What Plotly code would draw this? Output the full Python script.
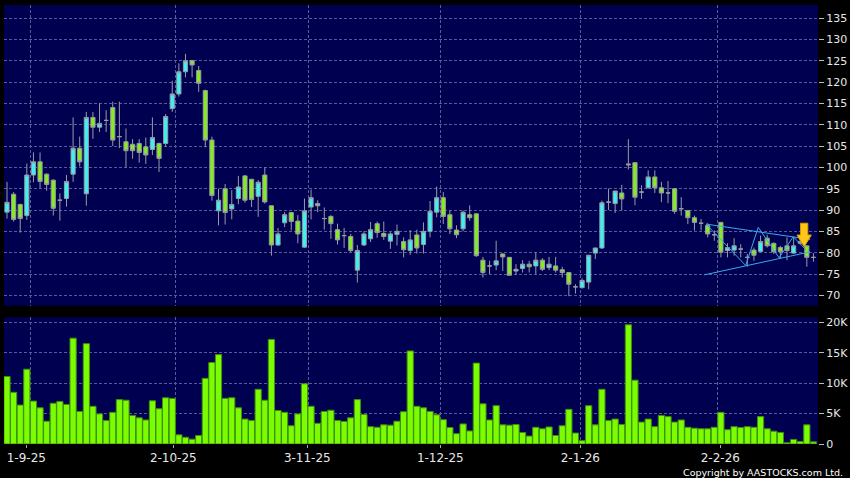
import plotly.graph_objects as go

# ---------------- data ----------------
opens = [89.5, 93.7, 91.3, 88.7, 98.2, 101.3, 98.4, 97.0, 92.3, 92.7,
         98.4, 104.5, 93.8, 111.7, 109.4, 111.0, 114.0, 107.2, 106.0, 105.4,
         105.6, 104.8, 104.2, 105.6, 105.6, 113.75, 117.2, 122.4, 125.0, 122.7,
         118.0, 106.4, 89.8, 95.0, 90.25, 92.7, 98.0, 97.2, 93.2, 98.2,
         91.0, 81.8, 87.0, 89.4, 87.4, 81.3, 90.7, 91.5, 88.0, 88.5,
         85.4, 84.0, 83.8, 75.9, 81.8, 83.25, 86.8, 84.5, 82.7, 84.3,
         82.6, 80.5, 84.15, 81.9, 85.0, 89.5, 92.9, 88.9, 85.3, 85.6,
         88.9, 89.1, 78.25, 76.9, 77.1, 79.7, 78.9, 75.7, 76.3, 77.3,
         76.9, 78.25, 76.5, 76.9, 76.0, 75.35, 72.0, 71.8, 73.1, 79.9,
         81.1, 91.85, 91.5, 94.0, 100.8, 101.1, 94.2, 95.2, 97.75, 95.2,
         94.0, 95.0, 90.3, 89.9, 88.2, 86.9, 86.35, 84.2, 87.1, 80.5,
         80.6, 80.85, 78.9, 80.6, 80.3, 83.4, 82.2, 81.2, 81.6, 79.9,
         82.6, 81.6, 78.9]
highs = [96.6, 94.2, 91.5, 100.9, 103.5, 103.5, 98.6, 97.2, 93.9, 98.2,
         111.7, 107.2, 113.0, 113.0, 115.0, 113.4, 115.4, 115.4, 109.1, 106.6,
         106.6, 107.0, 111.7, 105.8, 112.5, 120.3, 124.4, 126.6, 125.2, 123.75,
         118.2, 107.2, 95.0, 96.1, 94.65, 98.0, 98.2, 97.3, 97.0, 100.0,
         91.1, 85.8, 89.5, 89.5, 88.8, 92.7, 94.8, 92.3, 90.6, 88.8,
         86.8, 85.8, 84.4, 81.8, 85.0, 87.2, 87.3, 87.3, 84.8, 86.6,
         83.6, 85.3, 85.4, 87.1, 92.1, 95.5, 94.2, 89.9, 86.4, 89.9,
         91.1, 89.2, 79.0, 78.1, 82.8, 79.8, 79.0, 77.3, 78.25, 78.1,
         80.1, 78.7, 79.0, 79.0, 76.7, 75.5, 72.6, 74.0, 79.5, 81.2,
         92.2, 95.0, 94.5, 95.9, 106.6, 101.2, 95.8, 99.3, 99.3, 96.6,
         96.8, 95.1, 93.0, 90.0, 88.7, 87.9, 86.9, 85.2, 87.2, 82.2,
         83.4, 82.0, 79.7, 81.2, 84.0, 84.2, 82.4, 81.6, 83.6, 83.6,
         83.2, 81.7, 79.9]
lows = [88.0, 87.3, 84.7, 87.7, 96.5, 95.1, 94.5, 88.7, 87.5, 90.8,
        96.6, 100.2, 91.0, 106.7, 108.3, 108.3, 105.0, 104.5, 100.0, 102.0,
        101.1, 100.8, 102.9, 98.9, 104.8, 113.0, 116.6, 121.1, 121.1, 117.7,
        104.7, 92.2, 86.4, 86.6, 87.8, 91.35, 91.7, 90.7, 88.4, 91.5,
        79.3, 81.6, 86.0, 85.2, 82.2, 81.1, 87.8, 89.5, 85.4, 83.25,
        81.9, 81.1, 80.1, 73.0, 81.6, 82.5, 83.5, 83.0, 80.9, 81.7,
        78.9, 79.5, 79.8, 79.8, 83.6, 88.3, 86.7, 84.4, 83.4, 85.0,
        87.5, 79.0, 74.2, 75.0, 75.9, 75.7, 74.6, 74.8, 75.35, 75.35,
        75.0, 75.7, 75.9, 75.35, 74.2, 69.8, 70.4, 71.6, 71.4, 78.5,
        80.9, 90.0, 89.3, 89.9, 99.5, 91.1, 92.6, 95.0, 94.0, 91.85,
        91.6, 89.1, 88.7, 86.7, 85.2, 85.2, 83.6, 82.8, 78.9, 78.9,
        79.3, 78.9, 76.7, 78.1, 80.1, 81.2, 79.7, 78.7, 78.25, 79.7,
        81.9, 76.7, 77.9]
closes = [91.8, 87.8, 88.0, 98.2, 101.3, 96.7, 96.0, 90.4, 92.3, 96.7,
          104.5, 101.3, 111.7, 109.4, 110.3, 111.0, 106.4, 107.2, 103.9, 103.9,
          103.5, 102.9, 107.0, 102.1, 111.9, 117.2, 122.4, 125.0, 124.0, 119.7,
          106.4, 93.4, 92.3, 89.4, 91.3, 95.4, 92.3, 92.45, 96.5, 91.9,
          81.8, 84.4, 88.9, 87.3, 84.4, 89.8, 92.9, 91.0, 88.0, 86.8,
          83.0, 84.0, 80.5, 80.5, 84.4, 85.4, 84.7, 83.8, 84.4, 85.0,
          80.7, 83.0, 81.1, 85.0, 89.7, 92.9, 88.5, 85.6, 84.2, 89.5,
          88.2, 79.3, 75.35, 76.9, 78.1, 79.0, 74.7, 76.1, 77.3, 76.7,
          78.25, 76.1, 77.3, 75.9, 75.35, 72.6, 72.0, 73.5, 79.4, 81.1,
          91.7, 91.85, 94.45, 92.6, 100.6, 93.0, 94.2, 97.75, 95.2, 94.0,
          94.0, 89.7, 90.3, 88.2, 87.1, 86.9, 84.4, 84.2, 80.1, 81.2,
          81.6, 80.85, 78.9, 79.4, 82.6, 81.6, 80.2, 80.2, 80.5, 81.6,
          82.2, 78.9, 78.9]
volumes_k = [11.1, 8.5, 6.4, 12.3, 7.05, 5.95, 3.75, 6.7, 7.0, 6.5,
             17.4, 5.35, 16.5, 6.2, 4.95, 3.85, 5.2, 7.3, 7.2, 4.7,
             4.3, 3.95, 7.1, 5.8, 7.6, 7.5, 1.5, 1.1, 0.8, 1.4,
             10.8, 13.4, 14.7, 7.5, 7.6, 5.95, 4.1, 3.85, 9.0, 7.2,
             17.2, 5.5, 5.2, 3.0, 4.95, 9.9, 6.2, 3.4, 5.35, 5.55,
             3.85, 3.7, 4.3, 7.3, 4.85, 2.85, 2.75, 3.15, 3.1, 3.75,
             5.3, 15.3, 6.2, 5.95, 5.35, 4.8, 4.0, 2.7, 1.7, 3.3,
             2.15, 13.3, 6.6, 3.95, 6.3, 3.15, 3.1, 3.2, 1.9, 1.3,
             2.75, 2.5, 2.8, 1.4, 3.0, 5.7, 1.8, 0.55, 6.3, 3.15,
             9.0, 3.85, 4.1, 3.2, 19.6, 10.5, 3.6, 4.1, 2.85, 4.7,
             4.5, 3.6, 3.95, 2.75, 2.6, 2.5, 2.5, 2.75, 5.2, 2.35,
             2.85, 2.7, 2.85, 2.75, 4.5, 2.5, 2.1, 1.9, 0.2, 0.75,
             0.4, 3.15, 0.35]
volumes = [v * 1000 for v in volumes_k]
session = list(range(len(opens)))

date_tick_pos = [2.92, 25.16, 45.43, 65.55, 86.73, 107.91]
date_tick_labels = ["1-9-25", "2-10-25", "3-11-25", "1-12-25", "2-1-26", "2-2-26"]
date_grid_pos = [3.59, 25.52, 45.58, 65.61, 86.69, 107.46]

price_ticks = list(range(70, 140, 5))
vol_ticks = [0, 5000, 10000, 15000, 20000]
vol_tick_labels = ["0", "5K", "10K", "15K", "20K"]

# triangle pattern drawn by the chart user
tri_upper_x = [105.75, 121.5]
tri_upper_y = [86.7, 83.1]
tri_lower_x = [105.5, 121.5]
tri_lower_y = [74.8, 80.2]
zig_x = [105.75, 111.75, 113.65, 116.8, 118.95, 120.9]
zig_y = [86.7, 77.0, 85.95, 78.8, 83.75, 80.6]

arrow_x = 120.6
arrow_top = 86.9
arrow_tip = 81.4

# ---------------- styles ----------------
NAVY = "#000050"
GRID = "#5a5a96"
CYAN = "#3ff0f0"
GREEN = "#84ec20"
WICK = "#9a9aa6"
VOLG = "#7cfc00"
TXT = "#e8e8e8"
FONT = "DejaVu Sans"

fig = go.Figure()

fig.add_trace(go.Candlestick(
    x=session, open=opens, high=highs, low=lows, close=closes,
    increasing=dict(fillcolor=CYAN, line=dict(color=WICK, width=1)),
    decreasing=dict(fillcolor=GREEN, line=dict(color=WICK, width=1)),
    whiskerwidth=0, xaxis="x", yaxis="y", hoverinfo="skip",
))

line_style = dict(color="#3aa8f0", width=1)
for xs, ys in ((tri_upper_x, tri_upper_y), (tri_lower_x, tri_lower_y), (zig_x, zig_y)):
    fig.add_trace(go.Scatter(x=xs, y=ys, mode="lines", line=line_style,
                             xaxis="x", yaxis="y", hoverinfo="skip"))

fig.add_trace(go.Bar(
    x=session, y=volumes, marker=dict(color=VOLG, line=dict(color="#3f8f10", width=1)),
    xaxis="x2", yaxis="y2", hoverinfo="skip",
))

# arrow marker (built from its data position)
sw, hw, hh = 0.55, 1.09, 2.74
a = arrow_x
path = (f"M {a-sw},{arrow_top} L {a+sw},{arrow_top} L {a+sw},{arrow_tip+hh} "
        f"L {a+hw},{arrow_tip+hh} L {a},{arrow_tip} L {a-hw},{arrow_tip+hh} "
        f"L {a-sw},{arrow_tip+hh} Z")
fig.add_shape(type="path", path=path, xref="x", yref="y",
              fillcolor="#ffc61a", line=dict(color="#e09a00", width=1), layer="above")

xrange = [-0.454, 122.69]
fig.update_layout(
    width=850, height=478,
    margin=dict(l=4, r=32, t=5, b=34, autoexpand=False),
    paper_bgcolor="black", plot_bgcolor=NAVY,
    showlegend=False, boxgap=0.1, bargap=0.06,
    font=dict(family=FONT, color=TXT, size=11),
    xaxis=dict(domain=[0, 1], anchor="y", range=xrange, tickmode="array",
               tickvals=date_grid_pos, showticklabels=False, ticks="",
               showgrid=True, gridcolor=GRID, griddash="3px,2px", gridwidth=1,
               zeroline=False, showline=False, automargin=False,
               rangeslider=dict(visible=False)),
    yaxis=dict(domain=[0.315, 1], anchor="x", side="right", range=[67.57, 138.05],
               tickmode="array", tickvals=price_ticks, automargin=False,
               ticks="outside", ticklen=5, tickcolor="#bbbbbb", tickwidth=1,
               showgrid=True, gridcolor=GRID, griddash="3px,2px", gridwidth=1,
               zeroline=False, showline=False, tickfont=dict(size=11, color=TXT)),
    xaxis2=dict(domain=[0, 1], anchor="y2", range=xrange, tickmode="array",
                tickvals=date_tick_pos, ticktext=date_tick_labels, automargin=False,
                ticks="outside", ticklen=3, tickcolor="#aaaaaa", tickwidth=1,
                showgrid=False, zeroline=False, showline=False,
                tickfont=dict(size=12, color=TXT),
                minor=dict(tickmode="array", tickvals=date_grid_pos, showgrid=True,
                           gridcolor=GRID, griddash="3px,2px", gridwidth=1, ticks="")),
    yaxis2=dict(domain=[0, 0.2886], anchor="x2", side="right", range=[0, 20830],
                tickmode="array", tickvals=vol_ticks, ticktext=vol_tick_labels,
                ticks="outside", ticklen=5, tickcolor="#bbbbbb", tickwidth=1,
                showgrid=True, gridcolor=GRID, griddash="3px,2px", gridwidth=1,
                zeroline=False, showline=False, automargin=False,
                tickfont=dict(size=11, color=TXT)),
)

fig.add_annotation(text="Copyright by AASTOCKS.com Ltd.", xref="paper", yref="paper",
                   x=1.0332, y=-0.066, xanchor="right", yanchor="middle",
                   showarrow=False, font=dict(family=FONT, size=9.5, color="#ffffff"))

fig.write_html("out.html", config={"displayModeBar": False},
               post_script="document.body.style.margin='0';document.body.style.background='black';")
